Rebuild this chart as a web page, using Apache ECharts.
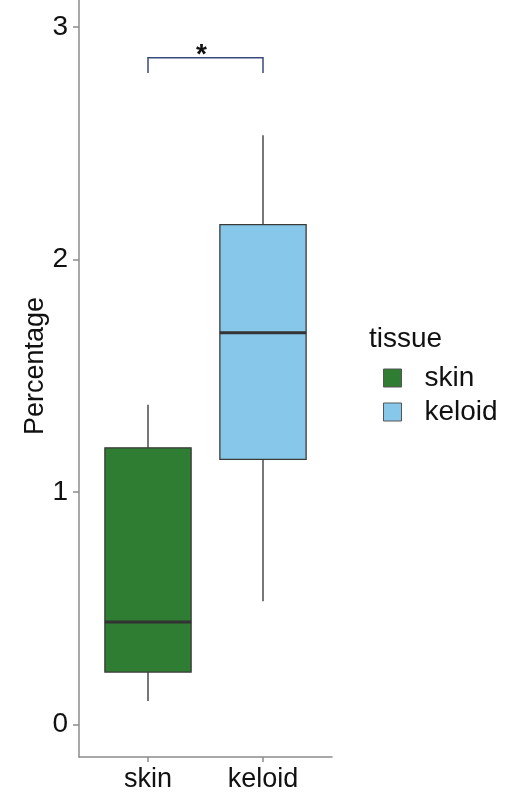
<!DOCTYPE html>
<html>
<head>
<meta charset="utf-8">
<script src="https://cdn.jsdelivr.net/npm/echarts@6/dist/echarts.min.js"></script>
<style>
  html, body { margin: 0; padding: 0; background: #ffffff; }
  #chart { width: 528px; height: 793px; }
</style>
</head>
<body>
<div id="chart"></div>
<script>
// Percentage of cells by tissue (box summaries)
const categories = ['skin', 'keloid'];
const lowerWhisker = [0.10, 0.53];
const lowerQuartile = [0.225, 1.14];
const medianValues = [0.44, 1.685];
const upperQuartile = [1.19, 2.15];
const upperWhisker = [1.375, 2.535];
const fillColors = ['#2e7d32', '#87c8ea'];

// Significance bracket between the two groups
const bracketFrom = 1;
const bracketTo = 2;
const bracketHeight = 2.868;
const bracketTip = 2.803;
const bracketLabel = '*';

const yTicks = [0, 1, 2, 3];
const xTicks = [1, 2];

const FONT = "'Liberation Sans', Arial, Helvetica, sans-serif";

const chart = echarts.init(document.getElementById('chart'), null, { renderer: 'canvas' });

function boxRenderer(color) {
  return function (params, api) {
    const x = api.value(0);
    const pMin = api.coord([x, api.value(1)]);
    const pQ1 = api.coord([x, api.value(2)]);
    const pMed = api.coord([x, api.value(3)]);
    const pQ3 = api.coord([x, api.value(4)]);
    const pMax = api.coord([x, api.value(5)]);
    const halfW = api.size([0.75, 0])[0] / 2;
    const whisker = { stroke: '#4a4a4a', lineWidth: 1.5 };
    return {
      type: 'group',
      children: [
        { type: 'line', shape: { x1: pQ3[0], y1: pQ3[1], x2: pMax[0], y2: pMax[1] }, style: whisker },
        { type: 'line', shape: { x1: pQ1[0], y1: pQ1[1], x2: pMin[0], y2: pMin[1] }, style: whisker },
        {
          type: 'rect',
          shape: { x: pQ3[0] - halfW, y: pQ3[1], width: halfW * 2, height: pQ1[1] - pQ3[1] },
          style: { fill: color, stroke: '#3a3a3a', lineWidth: 1.3 }
        },
        {
          type: 'line',
          shape: { x1: pMed[0] - halfW, y1: pMed[1], x2: pMed[0] + halfW, y2: pMed[1] },
          style: { stroke: '#333333', lineWidth: 3 }
        }
      ]
    };
  };
}

const boxSeries = categories.map(function (name, i) {
  return {
    name: name,
    type: 'custom',
    renderItem: boxRenderer(fillColors[i]),
    itemStyle: { color: fillColors[i] },
    encode: { x: 0, y: [1, 2, 3, 4, 5] },
    data: [[xTicks[i], lowerWhisker[i], lowerQuartile[i], medianValues[i], upperQuartile[i], upperWhisker[i]]],
    silent: true
  };
});

const bracketSeries = {
  name: 'signif',
  type: 'custom',
  silent: true,
  encode: { x: [0, 1], y: [2, 3] },
  data: [[bracketFrom, bracketTo, bracketHeight, bracketTip]],
  renderItem: function (params, api) {
    const a = api.coord([api.value(0), api.value(3)]);
    const b = api.coord([api.value(0), api.value(2)]);
    const c = api.coord([api.value(1), api.value(2)]);
    const d = api.coord([api.value(1), api.value(3)]);
    const mid = api.coord([(api.value(0) + api.value(1)) / 2, api.value(2)]);
    return {
      type: 'group',
      children: [
        {
          type: 'polyline',
          shape: { points: [a, b, c, d] },
          style: { stroke: '#3b4a7c', lineWidth: 1.5, fill: null }
        },
        {
          type: 'text',
          x: mid[0] - 4,
          y: mid[1] - 3,
          style: {
            text: bracketLabel,
            font: 'bold 28px ' + FONT,
            fill: '#111111',
            align: 'center',
            verticalAlign: 'middle'
          }
        }
      ]
    };
  }
};

chart.setOption({
  animation: false,
  backgroundColor: '#ffffff',
  grid: { left: 79, right: 196, top: 0, bottom: 35, containLabel: false },
  xAxis: {
    type: 'value',
    min: 0.4,
    max: 2.6,
    splitLine: { show: false },
    axisLine: { show: true, onZero: false, lineStyle: { color: '#8c8c8c', width: 1.5 } },
    axisTick: { show: true, length: 5, customValues: xTicks, lineStyle: { color: '#8c8c8c', width: 1.5 } },
    axisLabel: {
      customValues: xTicks,
      formatter: function (v) { return categories[Math.round(v) - 1]; },
      color: '#111111',
      fontSize: 27,
      fontFamily: FONT,
      margin: 9
    }
  },
  yAxis: {
    type: 'value',
    min: -0.1405,
    max: 3.117,
    splitLine: { show: false },
    axisLine: { show: true, onZero: false, lineStyle: { color: '#8c8c8c', width: 1.5 } },
    axisTick: { show: true, length: 6, customValues: yTicks, lineStyle: { color: '#8c8c8c', width: 1.5 } },
    axisLabel: {
      customValues: yTicks,
      color: '#111111',
      fontSize: 28,
      fontFamily: FONT,
      margin: 11
    }
  },
  legend: {
    data: categories,
    orient: 'vertical',
    left: 378,
    top: 359,
    itemWidth: 18,
    itemHeight: 18,
    itemGap: 6,
    icon: 'rect',
    selectedMode: false,
    itemStyle: { borderColor: '#555555', borderWidth: 1 },
    textStyle: {
      fontSize: 28,
      fontFamily: FONT,
      color: '#111111',
      padding: [0, 0, 0, 18]
    }
  },
  graphic: [
    {
      type: 'text',
      left: 369,
      top: 325,
      style: { text: 'tissue', font: '28px ' + FONT, fill: '#111111' }
    },
    {
      type: 'text',
      x: 36,
      y: 366,
      rotation: Math.PI / 2,
      style: {
        text: 'Percentage',
        font: '27px ' + FONT,
        fill: '#111111',
        align: 'center',
        verticalAlign: 'middle'
      }
    }
  ],
  series: boxSeries.concat([bracketSeries])
});
</script>
</body>
</html>
